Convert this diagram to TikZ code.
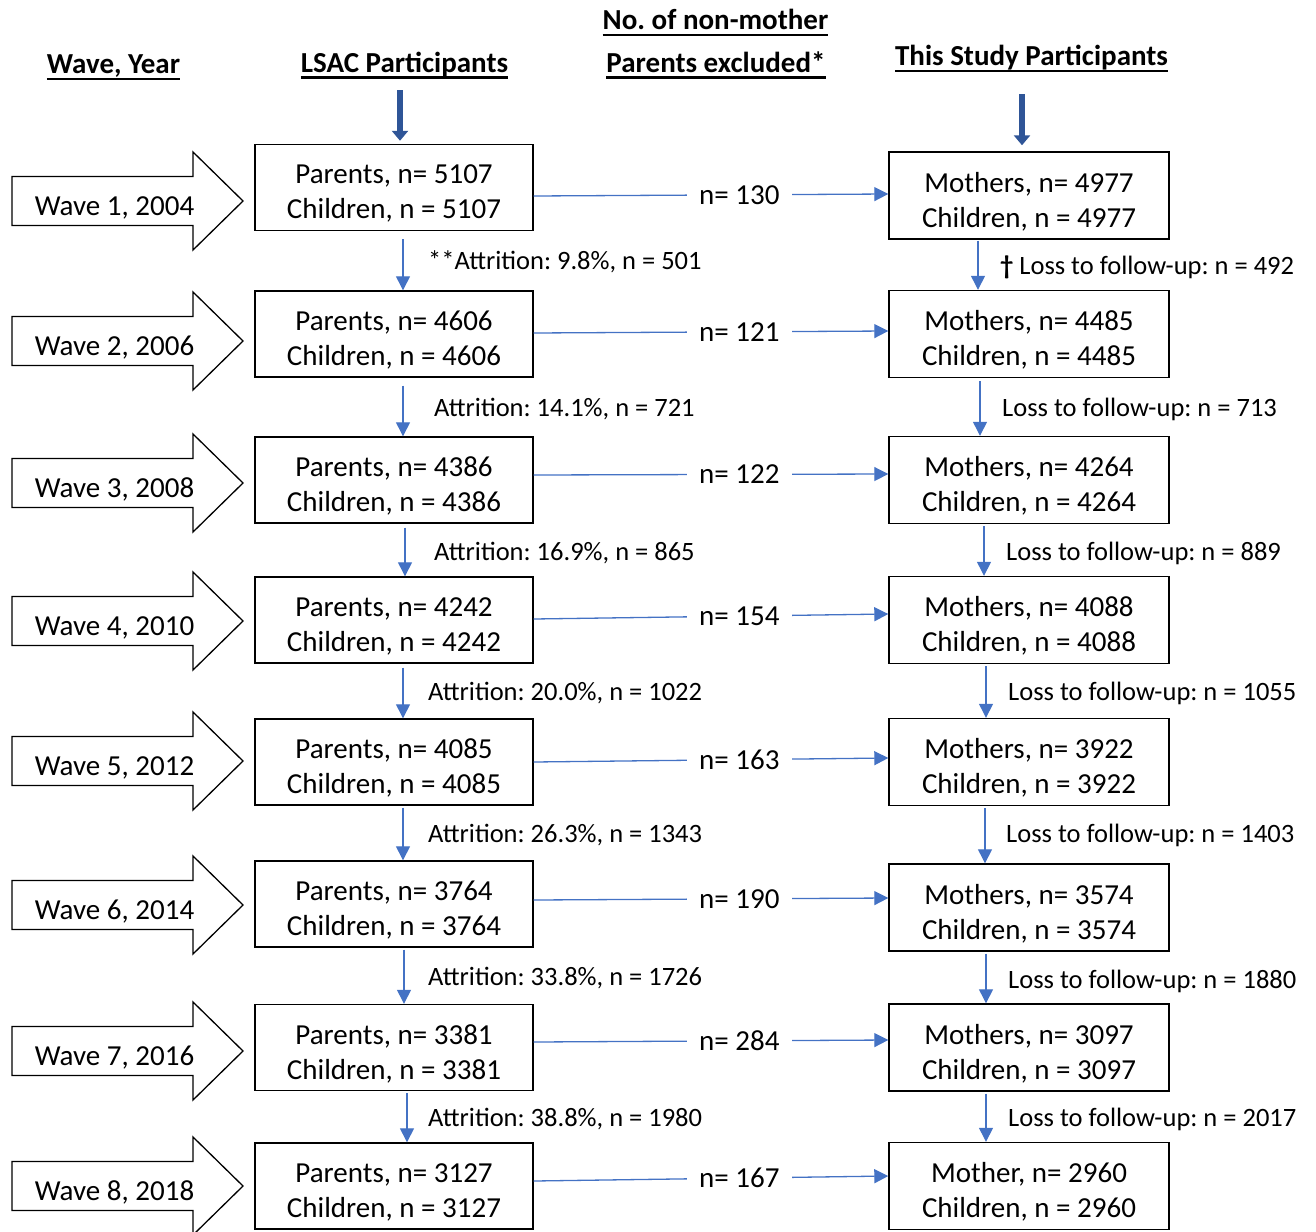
\documentclass[tikz,border=0pt]{standalone}
\usepackage{fontspec}
\setmainfont{Carlito}
\usetikzlibrary{arrows.meta}
\definecolor{ablue}{HTML}{4472C4}
\definecolor{dblue}{HTML}{2F5597}
\newsavebox\hdbox
\newcommand\hdul[1]{\sbox\hdbox{#1}\rlap{\rule[-6.5pt]{\wd\hdbox}{2.2pt}}\usebox\hdbox}
\frenchspacing
\begin{document}
\begin{tikzpicture}[x=1pt,y=-1pt,
  lbox/.style={draw, line width=1.4pt, minimum width=278pt, minimum height=86pt, inner sep=0pt},
  rbox/.style={draw, line width=1.4pt, minimum width=280pt, minimum height=87pt, inner sep=0pt},
  boxtxt/.style={align=center, font=\fontsize{29}{35}\selectfont, inner sep=0pt},
  hl/.style={ablue, line width=1.3pt, -{Triangle[width=14pt,length=14pt]}},
  lab/.style={font=\fontsize{29}{35}\selectfont, fill=white, inner xsep=12pt, inner ysep=2pt, text=black},
  side/.style={font=\fontsize{26.5}{32}\selectfont, anchor=base west, inner sep=0pt},
  hdr/.style={font=\fontsize{29}{35}\selectfont\bfseries, anchor=base, inner sep=0pt},
  wave/.style={draw, line width=1.3pt},
  wavetxt/.style={font=\fontsize{29}{35}\selectfont, anchor=base, inner sep=0pt},
  topar/.style={dblue, line width=6pt, -{Triangle[width=16pt,length=10pt]}}
]
\useasboundingbox (0,0) rectangle (1316,1231);

% headers
\node[hdr] (h1) at (113.5,74) {\hdul{Wave, Year}};
\node[hdr] (h2) at (404.5,72) {\hdul{LSAC Participants}};
\node[hdr] (h3a) at (715.5,30) {\hdul{No. of non-mother}};
\node[hdr] (h3b) at (716,72) {\hdul{Parents excluded*}};
\node[hdr] (h4) at (1031.5,66) {\hdul{This Study Participants}};

% wave arrows
\foreach \i/\cy/\yr in {1/201/2004, 2/341/2006, 3/483/2008, 4/621/2010, 5/761/2012, 6/905/2014, 7/1051/2016, 8/1186/2018} {
  \draw[wave] (12,{\cy-24.5}) -- (193,{\cy-24.5}) -- (193,{\cy-49}) -- (243,\cy) -- (193,{\cy+49}) -- (193,{\cy+24.5}) -- (12,{\cy+24.5}) -- cycle;
  \node[wavetxt] (w\i) at (114.5,{\cy+14}) {Wave \i, \yr};
}

% left boxes
\foreach \i/\cy/\n in {1/187.5/5107, 2/334/4606, 3/480/4386, 4/620/4242, 5/762/4085, 6/904/3764, 7/1047.5/3381, 8/1186/3127} {
  \node[lbox] (L\i) at (394,\cy) {};
  \node[boxtxt] (LT\i) at ([yshift=-6pt]L\i.center) {Parents, n= \n\\Children, n = \n};
}
% right boxes
\foreach \i/\cy/\n/\w in {1/195.5/4977/Mothers, 2/334/4485/Mothers, 3/480/4264/Mothers, 4/620/4088/Mothers, 5/762/3922/Mothers, 6/907.5/3574/Mothers, 7/1047.5/3097/Mothers, 8/1186/2960/Mother} {
  \node[rbox] (R\i) at (1029,\cy) {};
  \node[boxtxt] (RT\i) at ([yshift=-6pt]R\i.center) {\w, n= \n\\Children, n = \n};
}

% top arrows
\coordinate (tl) at (400,90);
\coordinate (tr) at (1022,94);
\draw[topar] (tl) -- ([xshift=6pt,yshift=3pt]L1.north);
\draw[topar] (tr) -- ([xshift=-7pt,yshift=6pt]R1.north);

% horizontal connectors
\foreach \i/\ly/\ry/\n in {1/-8.5/1.5/130, 2/1/3/121, 3/5/6/122, 4/1/6/154, 5/0/4/163, 6/4/9.5/190, 7/5.5/7.5/284, 8/5/10/167} {
  \draw[hl] ([yshift=\ly pt]L\i.east) -- node[pos=0.58, lab] (N\i) {n= \n} ([yshift=\ry pt]R\i.west);
}

% left vertical connectors
\foreach \a/\b/\xs/\g in {1/2/9/8, 2/3/9/8, 3/4/11/4, 4/5/9/4, 5/6/9/2, 6/7/10/2, 7/8/13/2} {
  \draw[hl] ([xshift=\xs pt,yshift=-\g pt]L\a.south) -- ([xshift=\xs pt]L\b.north);
}
% right vertical connectors
\foreach \a/\b/\xs/\g in {1/2/-51/1, 2/3/-49/3, 3/4/-45/2, 4/5/-43/2, 5/6/-44/2, 6/7/-43/2, 7/8/-43/2} {
  \draw[hl] ([xshift=\xs pt,yshift=-\g pt]R\a.south) -- ([xshift=\xs pt]R\b.north);
}

% attrition labels
\node[side] (A1) at (428,269.5) {**Attrition: 9.8\%, n = 501};
\node[side] (A2) at (434,416.5) {Attrition: 14.1\%, n = 721};
\node[side] (A3) at (434,560.5) {Attrition: 16.9\%, n = 865};
\node[side] (A4) at (428,700.5) {Attrition: 20.0\%, n = 1022};
\node[side] (A5) at (428,842.5) {Attrition: 26.3\%, n = 1343};
\node[side] (A6) at (428,985.5) {Attrition: 33.8\%, n = 1726};
\node[side] (A7) at (428,1126.5) {Attrition: 38.8\%, n = 1980};

% loss labels
\node[side] (F1) at (1000,274.5) {{\bfseries †} Loss to follow-up: n = 492};
\node[side] (F2) at (1002,416.5) {Loss to follow-up: n = 713};
\node[side] (F3) at (1006,560.5) {Loss to follow-up: n = 889};
\node[side] (F4) at (1008,700.5) {Loss to follow-up: n = 1055};
\node[side] (F5) at (1006,842.5) {Loss to follow-up: n = 1403};
\node[side] (F6) at (1008,988.5) {Loss to follow-up: n = 1880};
\node[side] (F7) at (1008,1126.5) {Loss to follow-up: n = 2017};
\end{tikzpicture}
\end{document}
